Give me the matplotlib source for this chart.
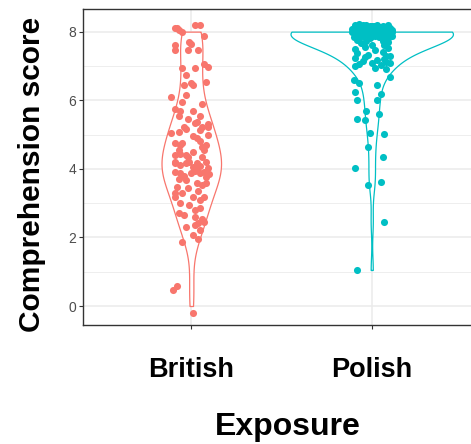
import numpy as np
import matplotlib
matplotlib.use("Agg")
import matplotlib.pyplot as plt

plt.rcParams['font.family'] = ['Liberation Sans', 'DejaVu Sans']

groups = ["British", "Polish"]
colors = ["#F8766D", "#00BFC4"]
bandwidth = [0.6, 0.40]

# comprehension scores as plotted (y) and horizontal jitter of each point
british_score = [8.10, 8.05, 8.00, 8.12, 8.20, 8.20, 7.88, 7.60, 7.46, 7.70,
                 7.63, 7.46, 7.46, 7.07, 6.98, 6.93, 6.95, 6.73, 6.44, 6.51,
                 6.44, 6.54, 6.10, 6.15, 5.89, 5.73, 5.70, 5.70, 5.45, 5.35,
                 5.21, 5.21, 5.23, 5.08, 5.05, 4.96, 4.75, 4.70, 4.70, 4.50,
                 4.43, 4.35, 4.16, 4.16, 4.18, 5.37, 5.32, 5.13, 4.89, 4.74,
                 4.55, 4.55, 4.40, 4.40, 4.21, 4.21, 4.21, 4.06, 4.11, 4.08,
                 4.01, 3.92, 3.87, 3.89, 3.87, 3.92, 3.67, 3.58, 3.53, 3.48,
                 3.43, 3.19, 3.19, 3.19, 3.00, 2.94, 2.80, 2.65, 2.60, 2.41,
                 2.45, 2.22, 2.07, 1.94, 1.87, 0.47, 0.58, -0.21, 3.75, 3.80,
                 3.30, 3.35, 2.30, 2.55, 2.70, 5.00, 5.55, 5.55, 5.95, 3.10,
                 3.30, 2.85, 2.35, 3.95, 4.65, 3.70, 4.80, 3.60, 4.35, 4.00,
                 5.15, 3.85]
british_jitter = [-0.09, -0.07, -0.05, -0.08, 0.02, 0.05, 0.07, -0.09, -0.09, -0.01,
                  0.00, -0.02, 0.04, 0.07, 0.09, -0.05, 0.02, -0.03, -0.04, 0.00,
                  0.01, 0.08, -0.11, -0.03, 0.06, -0.09, -0.06, 0.01, -0.02, 0.02,
                  0.06, 0.09, -0.04, -0.07, -0.11, 0.01, -0.09, -0.06, 0.08, 0.01,
                  -0.06, 0.06, -0.09, -0.03, 0.03, 0.03, 0.09, 0.05, 0.03, -0.05,
                  -0.07, 0.07, -0.09, -0.03, -0.01, -0.09, 0.08, 0.01, -0.06, 0.05,
                  0.09, -0.09, -0.06, 0.00, 0.05, 0.07, -0.03, 0.03, 0.06, -0.08,
                  -0.02, -0.09, 0.01, 0.07, -0.06, -0.01, 0.02, -0.04, 0.02, 0.04,
                  0.07, 0.05, 0.01, 0.04, -0.05, -0.10, -0.08, 0.01, 0.08, -0.04,
                  -0.05, 0.04, -0.03, 0.06, -0.07, 0.09, -0.07, 0.05, -0.05, 0.05,
                  -0.09, 0.05, 0.02, 0.02, 0.06, -0.07, 0.05, 0.08, -0.02, 0.03,
                  -0.03, 0.10]

polish_score = [8.18, 8.20, 8.17, 8.19, 8.16, 8.18, 8.21, 8.15,
                8.12, 8.10, 8.13, 8.11, 8.14, 8.10, 8.12, 8.09,
                8.05, 8.03, 8.06, 8.04, 8.07, 8.02, 8.05, 8.08,
                7.98, 7.97, 7.99, 7.96, 7.98, 7.95, 7.97, 8.00,
                7.92, 7.90, 7.93, 7.91, 7.89, 7.92, 7.90, 7.94,
                7.85, 7.84, 7.86, 7.83, 7.85, 7.82, 7.81, 7.87,
                8.19, 8.16, 8.14, 8.17, 8.11, 8.08, 8.06, 8.04, 8.01, 8.00,
                7.97, 7.95, 7.93, 7.91, 7.88, 7.86, 7.84, 7.82, 8.13, 8.02,
                7.76, 7.74, 7.72, 7.70, 7.66, 7.62, 7.60, 7.55, 7.52, 7.48,
                7.45, 7.40, 7.37, 7.33, 7.28, 7.22, 7.18, 7.15, 7.12, 7.08,
                7.05, 7.03, 7.10, 7.25, 7.20, 7.00, 6.95, 6.90, 7.30,
                6.67, 6.59, 6.49, 6.44, 6.25, 6.18, 6.00, 6.00, 5.69, 5.60,
                5.44, 5.42, 5.05, 5.01, 4.64, 4.35, 4.01, 3.53, 3.62, 2.46, 1.05]
polish_jitter = [-0.09, -0.05, -0.01, 0.03, 0.06, 0.09, -0.07, 0.01,
                 -0.10, -0.07, -0.03, 0.01, 0.04, 0.07, 0.10, -0.05,
                 -0.08, -0.05, -0.02, 0.02, 0.05, 0.08, 0.11, -0.11,
                 -0.11, -0.07, -0.04, 0.00, 0.03, 0.06, 0.09, 0.11,
                 -0.09, -0.06, -0.02, 0.02, 0.05, 0.08, 0.10, -0.04,
                 -0.10, -0.04, 0.00, 0.04, 0.07, -0.07, 0.09, 0.11,
                 -0.03, 0.00, 0.08, -0.08, -0.02, 0.03, 0.09, -0.06, -0.09, 0.05,
                 0.01, -0.03, 0.07, -0.07, 0.02, -0.05, 0.06, -0.01, 0.05, -0.01,
                 -0.08, -0.03, 0.06, 0.09, -0.06, 0.00, 0.07, -0.04, 0.09, -0.09,
                 0.02, 0.06, -0.08, -0.02, 0.08, -0.09, 0.03, -0.05, 0.08, 0.00,
                 -0.07, 0.05, 0.10, -0.04, 0.07, -0.09, 0.02, 0.08, 0.10,
                 0.10, -0.10, -0.07, 0.03, -0.09, 0.05, -0.08, 0.03, -0.03, 0.04,
                 -0.08, -0.04, -0.01, 0.07, -0.02, 0.06, -0.09, -0.02, 0.05, 0.07, -0.08]

scores = [british_score, polish_score]
jitters = [british_jitter, polish_jitter]


def kde(vals, bw):
    # scores run 0..8; points above 7.8 are jittered full marks
    y = np.asarray(vals)
    y = np.where(y >= 7.8, 8.0, np.clip(y, 0, 8))
    grid = np.linspace(y.min(), y.max(), 512)
    d = np.exp(-0.5 * ((grid[:, None] - y[None, :]) / bw) ** 2).sum(1)
    d = d / (len(y) * bw * np.sqrt(2 * np.pi))
    return grid, d


dens = [kde(s, b) for s, b in zip(scores, bandwidth)]
scale = 0.45 / max(d.max() for g, d in dens)

fig = plt.figure(figsize=(4.71, 4.44), dpi=100)
ax = fig.add_axes([83 / 471, 119 / 444, 397 / 471, 316 / 444])

for i, (g, d) in enumerate(dens):
    pos = i + 1
    w = d * scale
    ax.fill_betweenx(g, pos - w, pos + w, facecolor="white",
                     edgecolor=colors[i], linewidth=0.9, zorder=3)
    ax.scatter(pos + np.array(jitters[i]), scores[i], s=26, color=colors[i],
               linewidths=0, zorder=4)

ax.set_xlim(0.4, 2.6)
ax.set_ylim(-0.554, 8.66)
ax.set_yticks([0, 2, 4, 6, 8])
ax.set_yticks([1, 3, 5, 7], minor=True)
ax.set_xticks([1, 2], groups)
ax.grid(True, which="major", color="#EBEBEB", linewidth=1.1, zorder=0)
ax.grid(True, which="minor", axis="y", color="#EBEBEB", linewidth=0.6, zorder=0)
ax.set_axisbelow(True)
ax.tick_params(axis="y", which="minor", length=0)
ax.tick_params(axis="y", which="major", length=3, color="#333333",
               labelsize=10, labelcolor="#4D4D4D", pad=2)
ax.tick_params(axis="x", length=3, color="#333333", labelsize=19.5, pad=20)
for lab in ax.get_xticklabels():
    lab.set_fontweight("bold")
for sp in ax.spines.values():
    sp.set_color("#333333")
    sp.set_linewidth(1.0)

ax.set_xlabel("Exposure", fontsize=23, fontweight="bold")
ax.xaxis.set_label_coords(0.515, -0.275)
ax.set_ylabel("Comprehension score", fontsize=21.5, fontweight="bold")
ax.yaxis.set_label_coords(-0.094, 0.475)

fig.savefig("out.png", dpi=100)
